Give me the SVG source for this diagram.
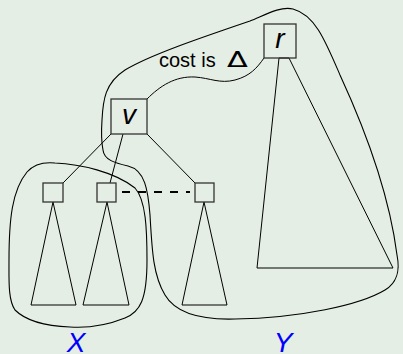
<svg xmlns="http://www.w3.org/2000/svg" width="403" height="354" viewBox="0 0 403 354">
<style>
.ln{fill:none;stroke:#000;stroke-width:1}
.bx{fill:none;stroke:#333;stroke-width:1.3}
.blob{fill:none;stroke:#000;stroke-width:1.1}
.lbl{font-family:"Liberation Sans",Arial,sans-serif;font-style:italic;fill:#000}
.set{font-family:"Liberation Sans",Arial,sans-serif;font-style:italic;fill:#0000ff;font-size:28px}
.txt{font-family:"Liberation Sans",Arial,sans-serif;font-size:20px;fill:#000}
</style>
<rect width="403" height="354" fill="#e5eee5"/>
<g id="connectors">
<line class="ln" x1="111" y1="134" x2="63" y2="183"/>
<line class="ln" x1="123" y1="134" x2="110" y2="183"/>
<line class="ln" x1="147" y1="134" x2="195" y2="183"/>
<path class="ln" d="M147,99 C160,86 175,76 195,77 C210,78 220,84 235,80 C250,76 257,68 264,58"/>
<line x1="122" y1="192" x2="190" y2="192" stroke="#000" stroke-width="2.2" stroke-dasharray="8,8"/>
</g>
<g id="tri1"><polygon class="ln" points="53,202 31,305 76,305"/></g>
<g id="tri2"><polygon class="ln" points="107,202 83,305 129,305"/></g>
<g id="tri3"><polygon class="ln" points="204,202 182,305 227,305"/></g>
<g id="bigtri"><polygon class="ln" points="279,58 257,268 393,268 289,58"/></g>
<g id="node-v"><rect class="bx" x="111" y="99" width="36" height="35"/><text class="lbl" x="129" y="124" font-size="28" text-anchor="middle">v</text></g>
<g id="node-r"><rect class="bx" x="264" y="24" width="32" height="34"/><text class="lbl" x="280" y="48" font-size="28" text-anchor="middle">r</text></g>
<g id="node-a"><rect class="bx" x="43" y="183" width="20" height="19"/></g>
<g id="node-b"><rect class="bx" x="97" y="183" width="19" height="19"/></g>
<g id="node-c"><rect class="bx" x="195" y="183" width="19" height="19"/></g>
<g id="blob-X"><path class="blob" d="M27,172 C35,163 45,162 55,163 C80,164 115,172 135,188 C146,200 147,230 147,260 C147,300 140,312 125,318 C105,326 85,328 70,327 C45,326 25,320 15,310 C8,300 9,280 9,260 C9,220 12,190 27,172 Z"/></g>
<g id="blob-Y"><path class="blob" d="M103,150 C104,160 115,163 128,166 C145,170 148,190 150,215 C152,250 153,275 165,295 C175,312 200,320 235,319 C300,318 360,305 385,290 C398,282 400,270 397,255 C390,200 370,140 340,75 C325,40 315,15 293,9 C280,6 265,15 250,21 C200,38 150,55 125,70 C105,83 103,100 102,120 C101,135 102,145 103,150 Z"/></g>
<g id="labels">
<text class="txt" x="159" y="67">cost is</text>
<text transform="translate(227,67) scale(1.45,1)" x="0" y="0" font-family="'DejaVu Sans',sans-serif" font-size="21" fill="#000">Δ</text>
<text class="set" x="76" y="352" text-anchor="middle">X</text>
<text class="set" x="283" y="352" text-anchor="middle">Y</text>
</g>
</svg>
